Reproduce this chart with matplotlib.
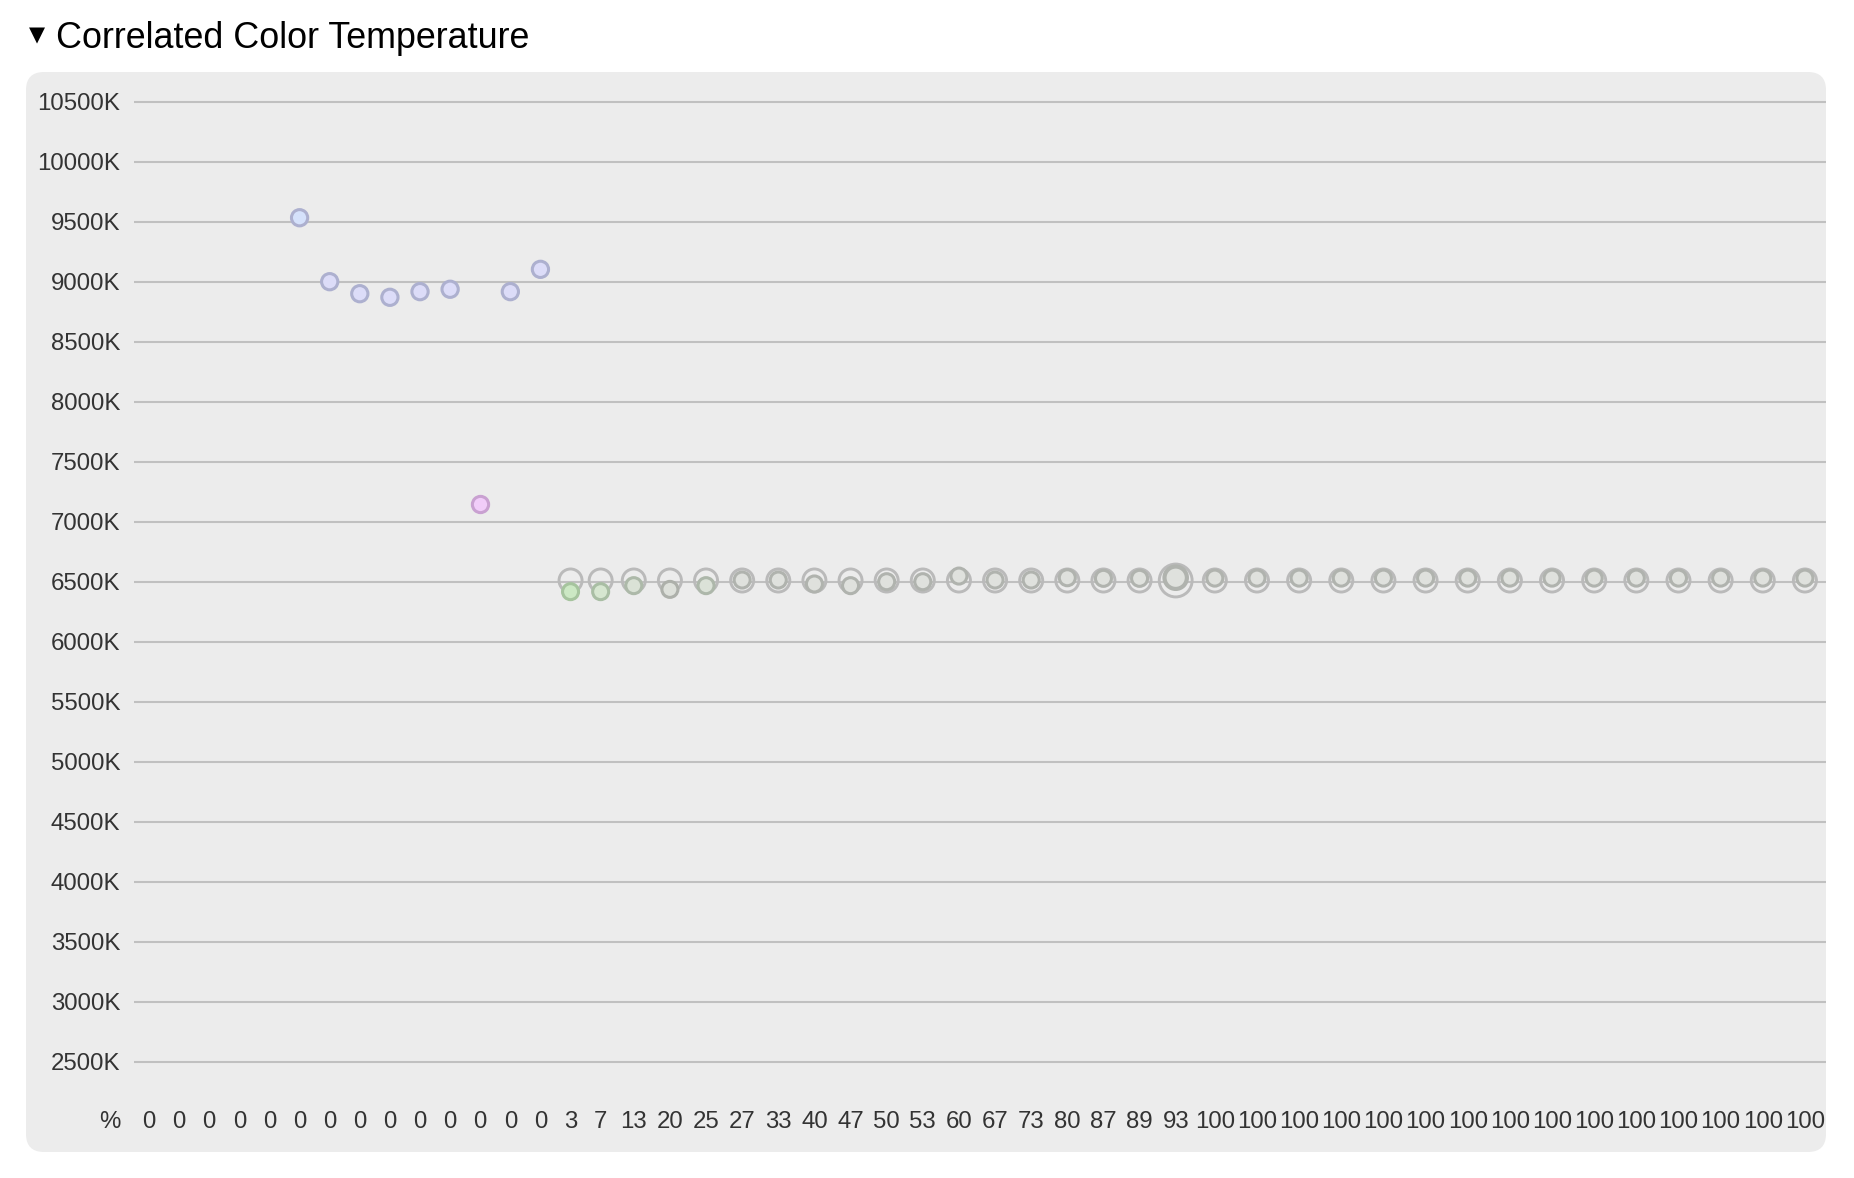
import numpy as np
import matplotlib
matplotlib.use('Agg')
import matplotlib.pyplot as plt
from matplotlib.patches import FancyBboxPatch
from matplotlib.transforms import IdentityTransform, offset_copy

plt.rcParams['font.family'] = ['Liberation Sans', 'DejaVu Sans']

# column labels (% along the sweep)
col_labels = ['0'] * 14 + ['3', '7', '13', '20', '25', '27', '33', '40', '47',
                           '50', '53', '60', '67', '73', '80', '87', '89', '93'] + ['100'] * 15

nan = np.nan
# early (cool) measurements, one per column, nan where empty
cool_cct = [nan, nan, nan, nan, nan, 9533, 9000, 8900, 8870, 8917, 8937, nan, 8917, 9103] + [nan] * 33
cool_fill = ['#d5e1fb', '#dcdcf8', '#dcdcf8', '#dcdcf8', '#dcdcf8', '#dcdcf8', '#dcdcf8', '#dcdcf8']
pink_cct = [nan] * 11 + [7150] + [nan] * 35

# reference ring (target white point) and measured value per column
target_cct = [nan] * 14 + [6510] * 33
measured_cct = [nan] * 14 + [6417, 6417, 6467, 6436, 6467, 6514, 6514, 6481, 6467,
                             6500, 6500, 6547, 6514, 6514, 6533, 6528, 6528, 6533] + [6530] * 15
measured_fill = ['#cce8c4', '#d6e6d0', '#dae2d6', '#dde0da', '#dbe2d8'] + ['#dfe1dd'] * 28
measured_edge = ['#a6c49e', '#a9bea4', '#adb9a9', '#adb0aa', '#adb7aa'] + ['#b0b3ae'] * 28

y_ticks = list(range(2500, 11000, 500))

W, H = 1854, 1178
fig = plt.figure(figsize=(W / 100, H / 100), dpi=100)

# rounded grey panel behind the chart
panel = FancyBboxPatch((26, 26), 1800, 1080, boxstyle='round,pad=0,rounding_size=18',
                       transform=IdentityTransform(), facecolor='#ececec', edgecolor='none',
                       zorder=-10)
fig.patches.append(panel)

fig.text(29 / W, 1 - 35 / H, '\u25bc', fontsize=15, family='DejaVu Sans', va='center', ha='left')
fig.text(56 / W, 1 - 38 / H, 'Correlated Color Temperature', fontsize=25.8, va='center', ha='left')

ax = fig.add_axes([134 / W, (H - 1121.7) / H, 1692 / W, (1121.7 - 72) / H])
ax.set_facecolor('none')
for s in ax.spines.values():
    s.set_visible(False)

# column widths follow label length, points sit at column centres
widths = np.array([24 + 6 * len(l) for l in col_labels], dtype=float)
x = np.cumsum(widths) - widths / 2
ax.set_xlim(0, widths.sum())
ax.set_ylim(2000, 10747.5)

ax.set_yticks(y_ticks)
ax.set_yticklabels([f'{v}K' for v in y_ticks])
ax.set_xticks(x)
ax.set_xticklabels(col_labels)
ax.tick_params(axis='both', length=0, labelsize=17.3, labelcolor='#333333')
ax.tick_params(axis='y', pad=10)
ax.tick_params(axis='x', pad=0)
plt.setp(ax.get_xticklabels(), va='center')
ax.yaxis.grid(True, color='#c0c0c0', lw=1.5)
ax.set_axisbelow(True)

pct = offset_copy(ax.transAxes, fig=fig, x=-24, y=0, units='dots')
ax.text(0, 0, '%', transform=pct, ha='center', va='center', fontsize=17.3, color='#333333')

cool = np.array(cool_cct)
m = ~np.isnan(cool)
ax.scatter(x[m], cool[m], s=137, c=cool_fill, edgecolors='#adb0cf', linewidths=2.2, zorder=3)

pink = np.array(pink_cct)
m = ~np.isnan(pink)
ax.scatter(x[m], pink[m], s=137, c='#f1cdf9', edgecolors='#c9a1d1', linewidths=2.2, zorder=3)

target = np.array(target_cct)
m = ~np.isnan(target)
ring_s = np.where(np.array(col_labels)[m] == '93', 560, 275)
ax.scatter(x[m], target[m], s=ring_s, facecolors='none', edgecolors='#bababa', linewidths=2.1, zorder=3)

meas = np.array(measured_cct)
m = ~np.isnan(meas)
meas_s = np.where(np.array(col_labels)[m] == '93', 260, 133)
meas_lw = np.where(np.array(col_labels)[m] == '93', 3.0, 2.2)
ax.scatter(x[m], meas[m], s=meas_s, c=measured_fill, edgecolors=measured_edge, linewidths=meas_lw, zorder=4)

fig.savefig('out.png', dpi=100)
